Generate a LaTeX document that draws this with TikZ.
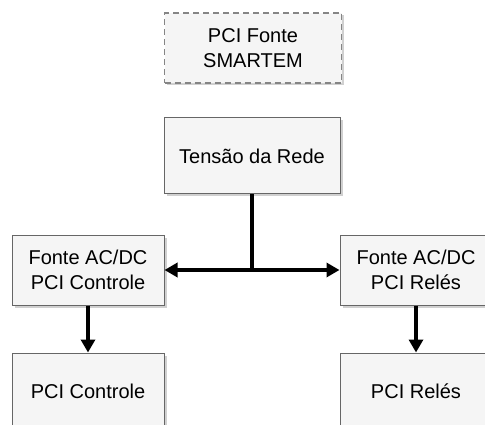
\documentclass[tikz,border=0pt]{standalone}
\usepackage{fontspec}
\setmainfont{Liberation Sans}
\usetikzlibrary{arrows.meta,shadows}
\definecolor{boxfill}{HTML}{F5F5F5}
\definecolor{boxline}{HTML}{666666}
\tikzset{
  blk/.style={draw=boxline, line width=1pt, fill=boxfill, rectangle, align=center,
    font=\fontsize{20}{25}\selectfont, inner sep=0pt,
    drop shadow={shadow xshift=2.5pt, shadow yshift=-2.5pt, opacity=0.3, fill=black!60}},
  dashblk/.style={blk, dash pattern=on 6pt off 4pt, draw=boxline!80, line width=1.6pt},
  arr/.style={line width=3.5pt, -{Triangle[length=13pt,width=14pt]}},
  ln/.style={line width=3.5pt}
}
\begin{document}
\begin{tikzpicture}[x=1pt,y=-1pt]
\clip (0,0) rectangle (485,425);
\fill[white] (0,0) rectangle (485,425);
\node[dashblk, minimum width=177pt, minimum height=70pt] (top) at (253,48) {PCI Fonte\\SMARTEM};
\node[blk, minimum width=176pt, minimum height=76pt] (rede) at (252,156) {Tensão da Rede};
\node[blk, minimum width=152pt, minimum height=70pt] (fl) at (88,270) {Fonte AC/DC\\PCI Controle};
\node[blk, minimum width=152pt, minimum height=70pt] (fr) at (416,270) {Fonte AC/DC\\PCI Relés};
\node[blk, minimum width=152pt, minimum height=76pt] (cl) at (88,391) {PCI Controle};
\node[blk, minimum width=152pt, minimum height=76pt] (cr) at (416,391) {PCI Relés};
\coordinate (j) at (252,270);
\draw[ln] (rede.south) -- (j);
\draw[arr] (j) -- (fl.east);
\draw[arr] (j) -- (fr.west);
\draw[arr] (fl.south) -- (cl.north);
\draw[arr] (fr.south) -- (cr.north);
\end{tikzpicture}
\end{document}
